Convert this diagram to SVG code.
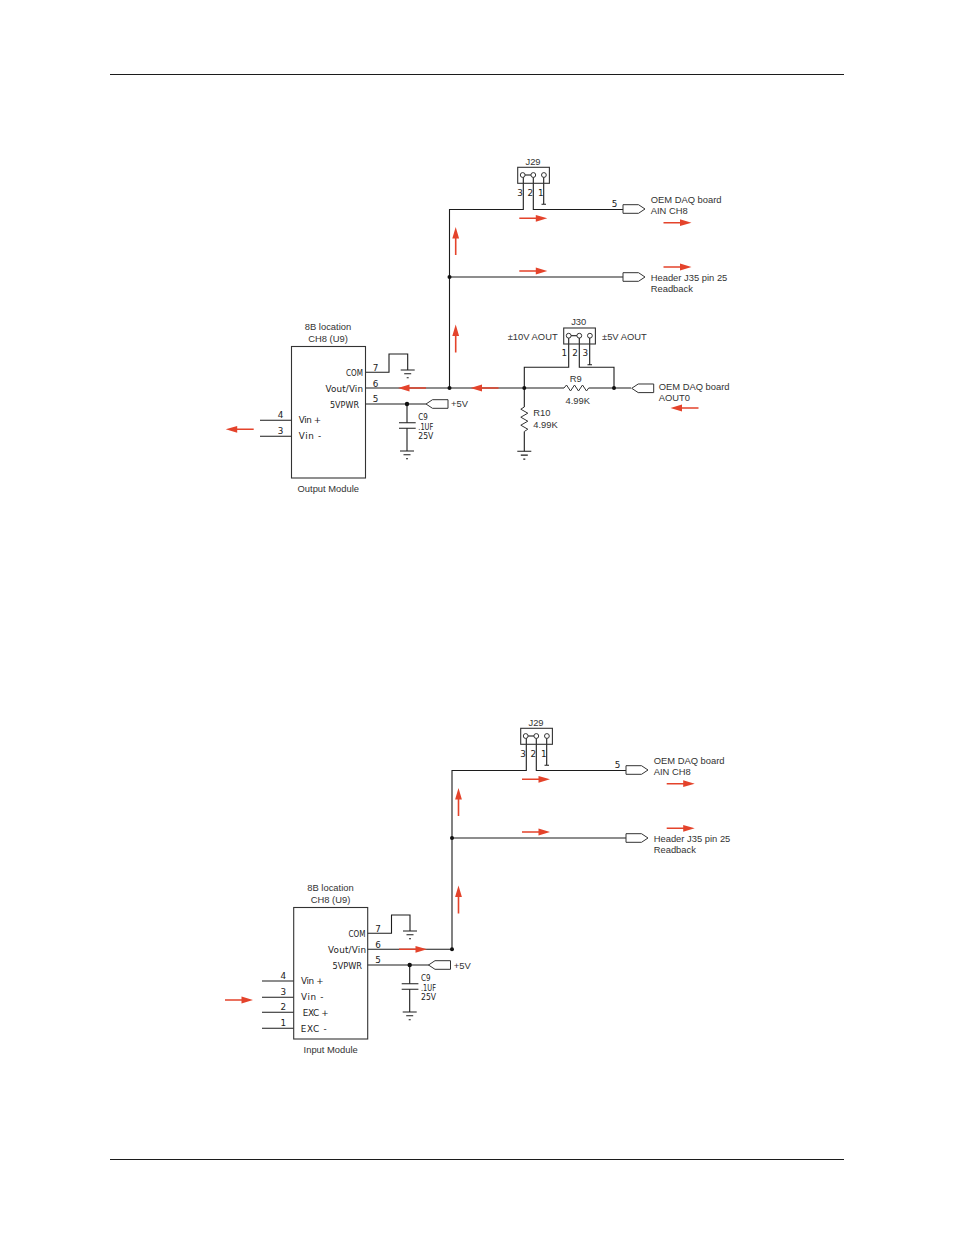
<svg xmlns="http://www.w3.org/2000/svg" xmlns:xlink="http://www.w3.org/1999/xlink" width="954" height="1235" viewBox="0 0 954 1235">
<style>
.w{fill:none;stroke:#1c1c1c;stroke-width:1.1}
.z{fill:none;stroke:#333;stroke-width:1}
.b{fill:none;stroke:#333;stroke-width:1.1}
.p{fill:#fff;stroke:#333;stroke-width:1}
.d{fill:#111}
.r{fill:#e4432b;stroke:none}
.t{font-family:"Liberation Sans",Arial,sans-serif;font-size:9.4px;fill:#333}
.s{font-family:"DejaVu Sans",sans-serif;font-size:8.8px;fill:#222}
.m{text-anchor:middle}
.e{text-anchor:end}
</style>
<defs>
<g id="ar"><path class="r" d="M0-.8H16.5L16.5-3.4 28 0 16.5 3.4 16.5 .8H0Z"/></g>
<g id="gnd"><path class="w" d="M-7 0H7M-3.5 3.8H3.5M-1 7.8H1"/></g>
<g id="conR"><path class="p" d="M0-4.3H15.5L22 0 15.5 4.3H0Z"/></g>
<g id="conL"><path class="p" d="M22-4.3H6.5L0 0 6.5 4.3H22Z"/></g>
<g id="jmp"><rect class="b" x="0" y="0" width="31.7" height="16"/><circle class="p" cx="5" cy="7.7" r="2.4"/><circle class="p" cx="15.6" cy="7.7" r="2.4"/><circle class="p" cx="26.2" cy="7.7" r="2.4"/><path class="w" d="M7.4 7.7H13.2"/></g>
</defs>
<rect width="954" height="1235" fill="#fff"/>
<path class="w" d="M110 74.5H844M110 1159.5H844"/>

<g id="connectors">
<g id="wires-top">
<path class="w" d="M449.5 388V209.5H523.3V176M533.3 176V209.5H623M543.7 176V204M541.5 204.2H546M449.5 277H623"/>
<path class="w" d="M365.3 372.3H389V354H407.7V370M365.3 388H564M588.7 388H631M365.3 404H426M407 404V422.7M407 428.3V451M260 420.3H291.3M260 436.3H291.3"/>
<path class="w" d="M568.7 338V367.3H524.3V407M579.3 338V367.3H614V388M589.7 338V364.5M587.5 364.7H592M524.3 431.5V451.3"/>
<path class="z" d="M564 388L566.5 385 570.5 391 574.5 385 578.5 391 582.5 385 586.5 391 588.7 388"/>
<path class="z" d="M524.3 407L520.8 409.2 527.8 413.2 520.8 417.2 527.8 421.2 520.8 425.2 527.8 429.2 524.3 431.5"/>
</g>
<g id="wires-bottom">
<path class="w" d="M452 949.3V770.5H526.3V737M536.3 737V770.5H626M546.7 737V765M544.5 765.2H549M452 838H626"/>
<path class="w" d="M367.7 933.3H391.5V915H410V931M367.7 949.3H452M367.7 965H429M409.7 965V983.7M409.7 989.3V1012M262 981H293.7M262 997.3H293.7M262 1012.3H293.7M262 1028.3H293.7"/>
</g>
<g id="junctions">
<circle class="d" cx="449.5" cy="277" r="2"/><circle class="d" cx="449.5" cy="388" r="2"/><circle class="d" cx="407" cy="404" r="2.2"/><circle class="d" cx="524.3" cy="388" r="2"/><circle class="d" cx="614" cy="388" r="2"/>
<circle class="d" cx="452" cy="838" r="2"/><circle class="d" cx="452" cy="949.3" r="2"/><circle class="d" cx="409.7" cy="965" r="2.2"/>
</g>
</g>

<g id="flow-arrows">
<use xlink:href="#ar" href="#ar" transform="translate(519.3 218.3)"/>
<use xlink:href="#ar" href="#ar" transform="translate(663.5 222.7)"/>
<use xlink:href="#ar" href="#ar" transform="translate(519.3 271)"/>
<use xlink:href="#ar" href="#ar" transform="translate(663.5 267)"/>
<use xlink:href="#ar" href="#ar" transform="translate(455.7 255) rotate(-90)"/>
<use xlink:href="#ar" href="#ar" transform="translate(455.7 352.5) rotate(-90)"/>
<use xlink:href="#ar" href="#ar" transform="translate(426 388) rotate(180)"/>
<use xlink:href="#ar" href="#ar" transform="translate(498.5 388) rotate(180)"/>
<use xlink:href="#ar" href="#ar" transform="translate(698.5 408) rotate(180)"/>
<use xlink:href="#ar" href="#ar" transform="translate(253.7 429.3) rotate(180)"/>
<use xlink:href="#ar" href="#ar" transform="translate(522 779.3)"/>
<use xlink:href="#ar" href="#ar" transform="translate(666.7 783.7)"/>
<use xlink:href="#ar" href="#ar" transform="translate(522 832)"/>
<use xlink:href="#ar" href="#ar" transform="translate(666.7 828.3)"/>
<use xlink:href="#ar" href="#ar" transform="translate(458.5 816) rotate(-90)"/>
<use xlink:href="#ar" href="#ar" transform="translate(458.5 913.5) rotate(-90)"/>
<use xlink:href="#ar" href="#ar" transform="translate(399 949.3)"/>
<use xlink:href="#ar" href="#ar" transform="translate(225 1000)"/>
</g>

<g id="j29-top">
<use xlink:href="#jmp" href="#jmp" x="517.7" y="167.3"/>
<text class="t m" x="533" y="165">J29</text>
<text class="s m" x="520" y="195.7">3</text><text class="s m" x="530.3" y="195.7">2</text><text class="s m" x="540.7" y="195.7">1</text>
</g>
<g id="ain-top">
<text class="s m" x="614.5" y="207">5</text>
<use xlink:href="#conR" href="#conR" x="623" y="209"/>
<text class="t" x="650.7" y="202.7">OEM DAQ board</text><text class="t" x="650.7" y="214">AIN CH8</text>
</g>
<g id="header-top">
<use xlink:href="#conR" href="#conR" x="623" y="277"/>
<text class="t" x="650.7" y="280.7">Header J35 pin 25</text><text class="t" x="650.7" y="292">Readback</text>
</g>
<g id="j30">
<use xlink:href="#jmp" href="#jmp" x="563.7" y="328"/>
<text class="t m" x="578.7" y="324.7">J30</text>
<text class="t" x="507.7" y="340">±10V AOUT</text><text class="t" x="602" y="340">±5V AOUT</text>
<text class="s m" x="564.3" y="356.3">1</text><text class="s m" x="575" y="356.3">2</text><text class="s m" x="585.3" y="356.3">3</text>
</g>
<g id="r9"><text class="t m" x="575.7" y="381.7">R9</text><text class="t m" x="577.7" y="404">4.99K</text></g>
<g id="r10"><text class="t" x="533.3" y="416.3">R10</text><text class="t" x="533.3" y="428.3">4.99K</text><use xlink:href="#gnd" href="#gnd" x="524.3" y="451.3"/></g>
<g id="aout">
<use xlink:href="#conL" href="#conL" x="631.7" y="388.3"/>
<text class="t" x="658.7" y="390">OEM DAQ board</text><text class="t" x="658.7" y="401.3">AOUT0</text>
</g>
<g id="output-module">
<rect class="b" x="291.5" y="346.5" width="74" height="131.5"/>
<text class="t m" x="328" y="330.3">8B location</text><text class="t m" x="328" y="342">CH8 (U9)</text>
<text class="s" x="346" y="376.3" textLength="17" lengthAdjust="spacingAndGlyphs">COM</text><text class="s" x="325.5" y="392" textLength="37.5" lengthAdjust="spacing">Vout/Vin</text><text class="s" x="330" y="407.7" textLength="29" lengthAdjust="spacingAndGlyphs">5VPWR</text>
<text class="s" x="298.7" y="423.3" textLength="22.5" lengthAdjust="spacing">Vin +</text><text class="s" x="298.7" y="438.7" textLength="22.5" lengthAdjust="spacing">Vin -</text>
<text class="s m" x="375.5" y="370.7">7</text><text class="s m" x="375.5" y="386.5">6</text><text class="s m" x="375.5" y="402">5</text>
<text class="s m" x="280.5" y="418">4</text><text class="s m" x="280.5" y="434">3</text>
<text class="t m" x="328.3" y="492.3">Output Module</text>
</g>
<g id="gnd-top"><use xlink:href="#gnd" href="#gnd" x="407.7" y="370"/></g>
<g id="c9-top">
<path class="w" d="M399 422.7H415.7M399 428.3H415.7"/>
<use xlink:href="#gnd" href="#gnd" x="407" y="451"/>
<text class="s" x="418.3" y="420.3" textLength="9.5" lengthAdjust="spacingAndGlyphs">C9</text><text class="s" x="418.3" y="430" textLength="15" lengthAdjust="spacingAndGlyphs">.1UF</text><text class="s" x="418.3" y="439.3" textLength="15" lengthAdjust="spacingAndGlyphs">25V</text>
</g>
<g id="v5-top"><use xlink:href="#conL" href="#conL" x="426" y="404"/><text class="t" x="451" y="406.7">+5V</text></g>

<g id="j29-bottom">
<use xlink:href="#jmp" href="#jmp" x="520.7" y="728.3"/>
<text class="t m" x="536" y="726">J29</text>
<text class="s m" x="523" y="756.7">3</text><text class="s m" x="533.3" y="756.7">2</text><text class="s m" x="543.7" y="756.7">1</text>
</g>
<g id="ain-bottom">
<text class="s m" x="617.5" y="768">5</text>
<use xlink:href="#conR" href="#conR" x="626" y="770"/>
<text class="t" x="653.7" y="763.7">OEM DAQ board</text><text class="t" x="653.7" y="775">AIN CH8</text>
</g>
<g id="header-bottom">
<use xlink:href="#conR" href="#conR" x="626" y="838"/>
<text class="t" x="653.7" y="841.7">Header J35 pin 25</text><text class="t" x="653.7" y="853">Readback</text>
</g>
<g id="input-module">
<rect class="b" x="293.7" y="907.5" width="74" height="131.5"/>
<text class="t m" x="330.5" y="891.3">8B location</text><text class="t m" x="330.5" y="903">CH8 (U9)</text>
<text class="s" x="348.5" y="937.3" textLength="17" lengthAdjust="spacingAndGlyphs">COM</text><text class="s" x="328" y="953" textLength="38" lengthAdjust="spacing">Vout/Vin</text><text class="s" x="332.5" y="968.7" textLength="29.5" lengthAdjust="spacingAndGlyphs">5VPWR</text>
<text class="s" x="301" y="984.3" textLength="22.5" lengthAdjust="spacing">Vin +</text><text class="s" x="301" y="999.7" textLength="22.5" lengthAdjust="spacing">Vin -</text><text class="s" x="302.7" y="1016.3" textLength="26" lengthAdjust="spacing">EXC +</text><text class="s" x="300.7" y="1032.3" textLength="26" lengthAdjust="spacing">EXC -</text>
<text class="s m" x="378" y="931.7">7</text><text class="s m" x="378" y="947.5">6</text><text class="s m" x="378" y="963">5</text>
<text class="s m" x="283.3" y="979">4</text><text class="s m" x="283.3" y="995">3</text><text class="s m" x="283.3" y="1010">2</text><text class="s m" x="283.3" y="1026">1</text>
<text class="t m" x="330.7" y="1053.3">Input Module</text>
</g>
<g id="gnd-bottom"><use xlink:href="#gnd" href="#gnd" x="410" y="931"/></g>
<g id="c9-bottom">
<path class="w" d="M401.7 983.7H418.4M401.7 989.3H418.4"/>
<use xlink:href="#gnd" href="#gnd" x="409.7" y="1012"/>
<text class="s" x="421" y="981.3" textLength="9.5" lengthAdjust="spacingAndGlyphs">C9</text><text class="s" x="421" y="991" textLength="15" lengthAdjust="spacingAndGlyphs">.1UF</text><text class="s" x="421" y="1000.3" textLength="15" lengthAdjust="spacingAndGlyphs">25V</text>
</g>
<g id="v5-bottom"><use xlink:href="#conL" href="#conL" x="428.5" y="965"/><text class="t" x="453.7" y="969">+5V</text></g>
</svg>
